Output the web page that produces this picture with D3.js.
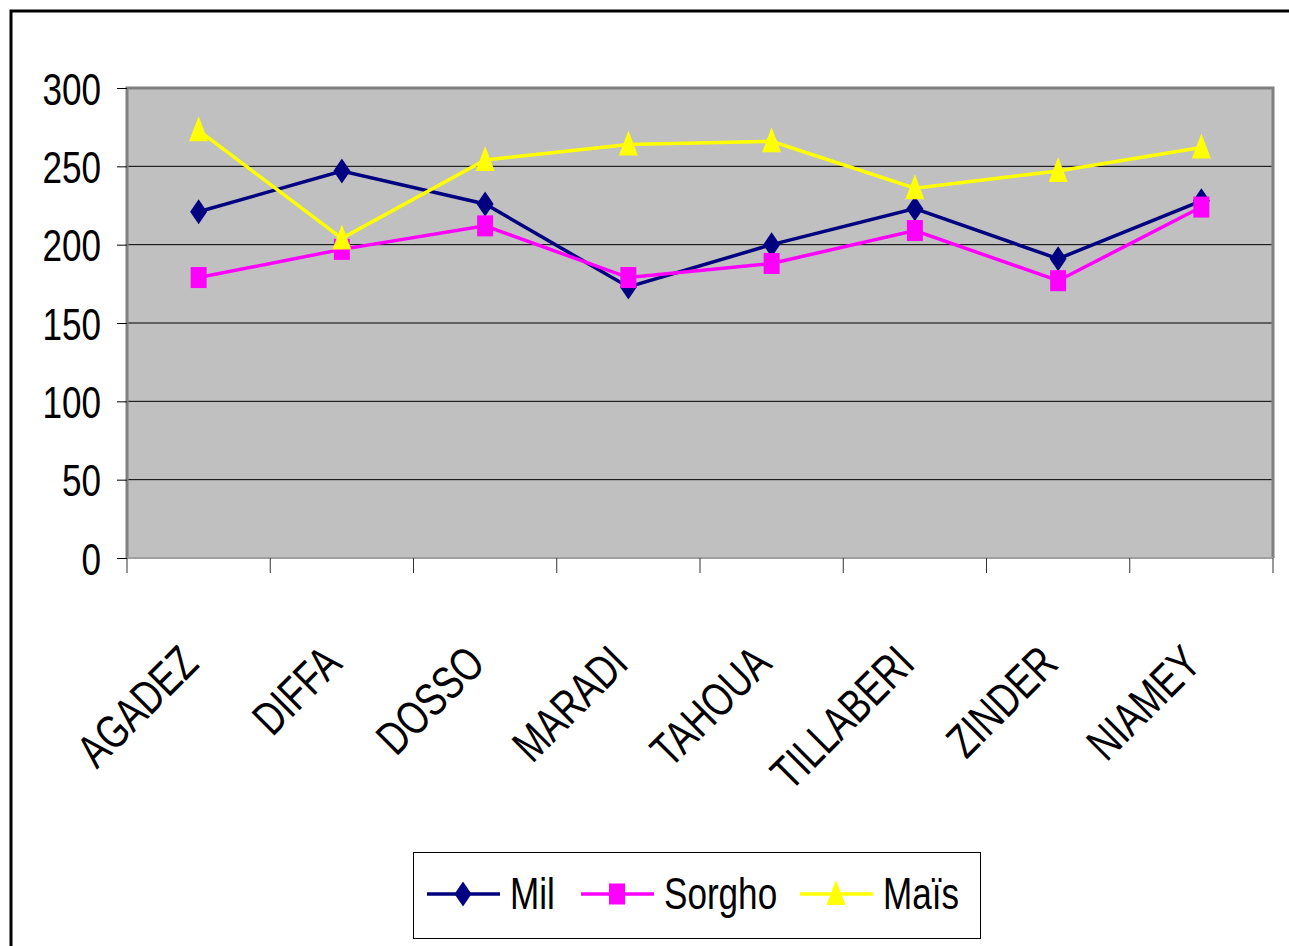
<!DOCTYPE html>
<html>
<head>
<meta charset="utf-8">
<script src="https://cdn.jsdelivr.net/npm/d3@7"></script>
<style>
  body { margin: 0; background: #fff; }
  text { font-family: "Liberation Sans", Arial, sans-serif; fill: #000; }
</style>
</head>
<body>
<div id="chart"></div>
<script>
var regions = ["AGADEZ", "DIFFA", "DOSSO", "MARADI", "TAHOUA", "TILLABERI", "ZINDER", "NIAMEY"];
var mil    = [221, 247, 226, 173, 200, 223, 191, 228];
var sorgho = [179, 197, 212, 179, 188, 209, 177, 224];
var mais   = [273, 204, 254, 264, 266, 236, 247, 262];
var yTicks = [0, 50, 100, 150, 200, 250, 300];

var series = [
    { name: "Mil", values: mil, color: "#000080", shape: "diamond" },
    { name: "Sorgho", values: sorgho, color: "#FF00FF", shape: "square" },
    { name: "Maïs", values: mais, color: "#FFFF00", shape: "triangle" }
];

var W = 1289, H = 946;
var plot = { left: 127, top: 88, right: 1273, bottom: 558 };
var squeeze = 0.78; // the font in the original is a narrow one

var svg = d3.select("#chart").append("svg")
    .attr("width", W)
    .attr("height", H);

// outer frame (runs off the right and bottom edges)
svg.append("rect")
    .attr("x", 11).attr("y", 11)
    .attr("width", 1300).attr("height", 1000)
    .attr("fill", "none")
    .attr("stroke", "#000")
    .attr("stroke-width", 3);

var x = d3.scaleBand()
    .domain(regions)
    .range([plot.left, plot.right]);
var y = d3.scaleLinear()
    .domain([0, 300])
    .range([plot.bottom, plot.top]);

// plot area
svg.append("rect")
    .attr("x", plot.left).attr("y", plot.top)
    .attr("width", plot.right - plot.left)
    .attr("height", plot.bottom - plot.top)
    .attr("fill", "#C0C0C0");

// gridlines
svg.append("g").selectAll("line")
    .data(yTicks.filter(function (d) { return d > 0 && d < 300; }))
    .enter().append("line")
    .attr("x1", plot.left).attr("x2", plot.right)
    .attr("y1", function (d) { return y(d); })
    .attr("y2", function (d) { return y(d); })
    .attr("stroke", "#000")
    .attr("stroke-width", 1);

// plot border: dark grey top/right/left, lighter bottom
svg.append("path")
    .attr("d", "M" + plot.left + "," + plot.bottom + "V" + plot.top + "H" + plot.right + "V" + plot.bottom)
    .attr("fill", "none")
    .attr("stroke", "#808080")
    .attr("stroke-width", 3);
svg.append("line")
    .attr("x1", plot.left).attr("x2", plot.right)
    .attr("y1", plot.bottom).attr("y2", plot.bottom)
    .attr("stroke", "#a0a0a0")
    .attr("stroke-width", 2);

// y axis
var yAxis = svg.append("g")
    .attr("transform", "translate(" + plot.left + ",0)")
    .call(d3.axisLeft(y).tickValues(yTicks).tickSize(10).tickPadding(16));
yAxis.select(".domain").remove();
yAxis.selectAll(".tick line").attr("stroke", "#000");
yAxis.selectAll(".tick text")
    .attr("font-size", 45)
    .attr("x", -26 / squeeze)
    .attr("dy", "0.36em")
    .attr("transform", "scale(" + squeeze + ",1)");

// x axis ticks at category boundaries
var bounds = regions.map(function (d) { return x(d); }).concat([plot.right]);
svg.append("g").selectAll("line")
    .data(bounds)
    .enter().append("line")
    .attr("x1", function (d) { return d; })
    .attr("x2", function (d) { return d; })
    .attr("y1", plot.bottom).attr("y2", plot.bottom + 15)
    .attr("stroke", "#333")
    .attr("stroke-width", 1);

// rotated category labels
svg.append("g").selectAll("text")
    .data(regions)
    .enter().append("text")
    .attr("transform", function (d) {
        return "translate(" + (x(d) + x.bandwidth() / 2 + 2) + ",666) rotate(-45) scale(0.76,1)";
    })
    .attr("text-anchor", "end")
    .attr("font-size", 47)
    .text(function (d) { return d; });

function marker(sel, shape, color) {
    if (shape === "diamond") {
        sel.append("path").attr("d", "M0,-12.5L8.5,0L0,12.5L-8.5,0Z").attr("fill", color);
    } else if (shape === "square") {
        sel.append("rect").attr("x", -8).attr("y", -10.5).attr("width", 16).attr("height", 21).attr("fill", color);
    } else {
        sel.append("path").attr("d", "M0,-14L9.5,11L-9.5,11Z").attr("fill", color);
    }
}

var line = d3.line()
    .x(function (d, i) { return x(regions[i]) + x.bandwidth() / 2; })
    .y(function (d) { return y(d); });

series.forEach(function (s) {
    var g = svg.append("g");
    g.append("path")
        .datum(s.values)
        .attr("d", line)
        .attr("fill", "none")
        .attr("stroke", s.color)
        .attr("stroke-width", 3.5);
    g.selectAll("g.pt")
        .data(s.values)
        .enter().append("g")
        .attr("class", "pt")
        .attr("transform", function (d, i) {
            return "translate(" + (x(regions[i]) + x.bandwidth() / 2) + "," + y(d) + ")";
        })
        .each(function () { marker(d3.select(this), s.shape, s.color); });
});

// legend
var legend = svg.append("g");
legend.append("rect")
    .attr("x", 413.5).attr("y", 852.5)
    .attr("width", 567).attr("height", 86)
    .attr("fill", "#fff")
    .attr("stroke", "#000")
    .attr("stroke-width", 1);
var legendX = [427, 581, 800];
series.forEach(function (s, i) {
    var g = legend.append("g").attr("transform", "translate(" + legendX[i] + ",894)");
    g.append("line")
        .attr("x1", 0).attr("x2", 73)
        .attr("stroke", s.color)
        .attr("stroke-width", 3.5);
    var m = g.append("g").attr("transform", "translate(36,0)");
    marker(m, s.shape, s.color);
    g.append("text")
        .attr("transform", "translate(83,15) scale(" + squeeze + ",1)")
        .attr("font-size", 45)
        .text(s.name);
});
</script>
</body>
</html>
